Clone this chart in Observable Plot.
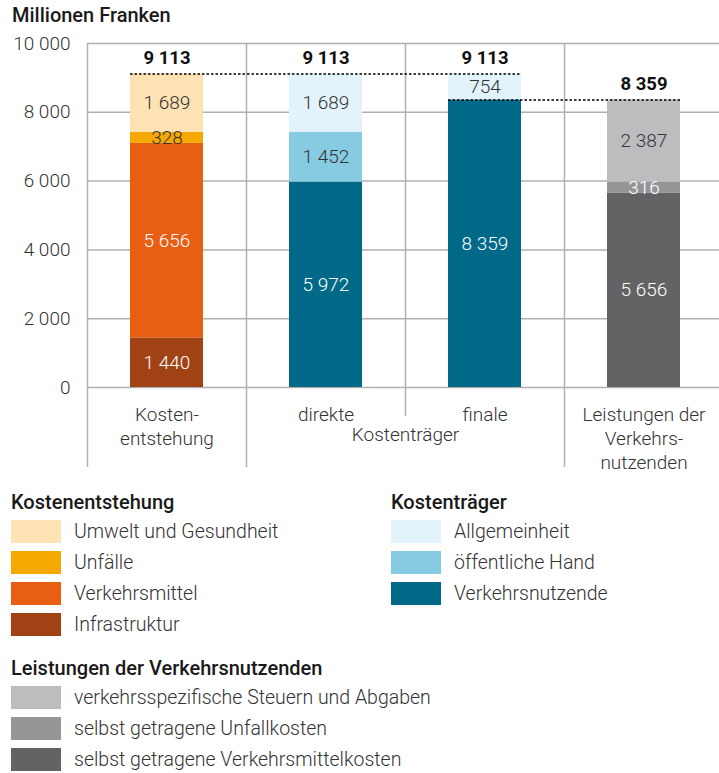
<!DOCTYPE html>
<html>
<head>
<meta charset="utf-8">
<script src="https://cdn.jsdelivr.net/npm/d3@7"></script>
<script src="https://cdn.jsdelivr.net/npm/@observablehq/plot@0.6"></script>
<style>
  body { margin: 0; background: #fff; font-family: Roboto, "Noto Sans", sans-serif; color: #333; }
  #wrap { position: relative; width: 719px; height: 773px; overflow: hidden; }
  #title { position: absolute; left: 12px; top: 3px; font-size: 20px; font-weight: 500; color: #1a1a1a; }
  #chart { position: absolute; left: 0; top: 30px; }
  .legend { position: absolute; font-size: 19.5px; font-weight: 300; color: #333; }
  .legend .lt { font-weight: 500; font-size: 20px; color: #1a1a1a; height: 24px; line-height: 24px; margin-bottom: 2px; }
  .legend .row { display: flex; align-items: center; height: 31px; }
  .legend .sw { width: 50px; height: 23px; margin-right: 13px; flex: none; }
</style>
</head>
<body>
<div id="wrap">
  <div id="title">Millionen Franken</div>
  <div id="chart"></div>
</div>
<script>
// ---- data ----
const categories = ["Kostenentstehung", "direkte", "finale", "Leistungen"];
const categoryLabels = ["Kosten-\nentstehung", "direkte", "finale", "Leistungen der\nVerkehrs-\nnutzenden"];
const groupLabel = "Kostenträger";

const kostenentstehungSeries = ["Infrastruktur", "Verkehrsmittel", "Unfälle", "Umwelt und Gesundheit"];
const kostenentstehungValues = [1440, 5656, 328, 1689];
const direkteSeries = ["Verkehrsnutzende", "öffentliche Hand", "Allgemeinheit"];
const direkteValues = [5972, 1452, 1689];
const finaleSeries = ["Verkehrsnutzende", "Allgemeinheit"];
const finaleValues = [8359, 754];
const leistungenSeries = ["selbst getragene Verkehrsmittelkosten", "selbst getragene Unfallkosten", "verkehrsspezifische Steuern und Abgaben"];
const leistungenValues = [5656, 316, 2387];

const totals = [9113, 9113, 9113, 8359];
const yTicks = [0, 2000, 4000, 6000, 8000, 10000];

const seriesDomain = [
  "Umwelt und Gesundheit", "Unfälle", "Verkehrsmittel", "Infrastruktur",
  "Allgemeinheit", "öffentliche Hand", "Verkehrsnutzende",
  "verkehrsspezifische Steuern und Abgaben", "selbst getragene Unfallkosten", "selbst getragene Verkehrsmittelkosten"
];
const seriesColors = [
  "#fde2b4", "#f5a800", "#e85e12", "#a04214",
  "#e3f3fb", "#86cbe1", "#006987",
  "#bdbdbf", "#969698", "#636366"
];
const darkTextSeries = new Set(["Umwelt und Gesundheit", "Unfälle", "Allgemeinheit", "öffentliche Hand", "verkehrsspezifische Steuern und Abgaben"]);

const legendGroups = [
  {title: "Kostenentstehung", items: ["Umwelt und Gesundheit", "Unfälle", "Verkehrsmittel", "Infrastruktur"], left: 11, top: 490},
  {title: "Kostenträger", items: ["Allgemeinheit", "öffentliche Hand", "Verkehrsnutzende"], left: 391, top: 490},
  {title: "Leistungen der Verkehrsnutzenden", items: ["verkehrsspezifische Steuern und Abgaben", "selbst getragene Unfallkosten", "selbst getragene Verkehrsmittelkosten"], left: 11, top: 656}
];

// ---- build table ----
const segments = [];
[[kostenentstehungSeries, kostenentstehungValues], [direkteSeries, direkteValues], [finaleSeries, finaleValues], [leistungenSeries, leistungenValues]]
  .forEach(([s, v], i) => s.forEach((name, j) => segments.push({cat: categories[i], series: name, value: v[j]})));
const totalRows = categories.map((c, i) => ({cat: c, total: totals[i]}));
const labelRows = categories.map((c, i) => ({cat: c, label: categoryLabels[i]}));

const loc = d3.formatLocale({decimal: ",", thousands: " ", grouping: [3], currency: ["", ""]});
const fmt = loc.format(",d");

const xLeft = 87, xRight = 723;
const step = (xRight - xLeft) / categories.length;
const barFrac = 73 / step;

const chart = Plot.plot({
  width: 719,
  height: 445,
  marginLeft: 87,
  marginRight: 0,
  marginTop: 13,
  marginBottom: 88,
  style: {fontFamily: "Roboto, 'Noto Sans', sans-serif", overflow: "visible", background: "transparent"},
  x: {domain: categories, range: [xLeft, xRight], paddingInner: 1 - barFrac, paddingOuter: (1 - barFrac) / 2, axis: null},
  y: {domain: [0, 10000], axis: null},
  color: {domain: seriesDomain, range: seriesColors},
  marks: [
    Plot.ruleY(yTicks, {stroke: "#b0b0b0", strokeWidth: 1.5}),
    Plot.axisY(yTicks, {tickSize: 0, tickPadding: 17, tickFormat: fmt, fontSize: 19, fontWeight: 300, fill: "#333", label: null}),
    // vertical separators
    Plot.ruleX(["Kostenentstehung", "direkte", "Leistungen"], {x: d => d, y1: 10000, y2: 0, dx: -step / 2, insetBottom: -80, stroke: "#b0b0b0", strokeWidth: 1.5}),
    Plot.ruleX(["finale"], {x: d => d, y1: 10000, y2: 0, dx: -step / 2, insetBottom: -29, stroke: "#b0b0b0", strokeWidth: 1.5}),
    Plot.barY(segments, Plot.stackY({x: "cat", y: "value", fill: "series", order: null})),
    Plot.text(segments, Plot.stackY({x: "cat", y: "value", order: null, text: d => fmt(d.value),
      fill: d => darkTextSeries.has(d.series) ? "#333" : "#fff", fontSize: 19, fontWeight: 300, lineAnchor: "middle"})),
    // dashed total lines
    Plot.ruleY([{y: totals[0], a: categories[0], b: categories[2]}], {y: "y", x1: "a", x2: "b", stroke: "#000", strokeWidth: 1.4, strokeDasharray: "2.5,2"}),
    Plot.ruleY([{y: totals[3], a: categories[2], b: categories[3]}], {y: "y", x1: "a", x2: "b", stroke: "#000", strokeWidth: 1.4, strokeDasharray: "2.5,2"}),
    Plot.text(totalRows, {x: "cat", y: "total", text: d => fmt(d.total), dy: -16, fontSize: 18.5, fontWeight: 700, fill: "#111", lineAnchor: "middle"}),
    // category labels
    Plot.text(labelRows, {x: "cat", y: 0, text: "label", lineAnchor: "top", dy: 16, fontSize: 19, fontWeight: 300, fill: "#333", lineHeight: 1.27}),
    Plot.text([groupLabel], {x: () => "finale", y: 0, text: d => d, dx: -step / 2, lineAnchor: "top", dy: 40, fontSize: 19, fontWeight: 300, fill: "#333"})
  ]
});
document.getElementById("chart").appendChild(chart);

// ---- legends ----
const colorOf = name => seriesColors[seriesDomain.indexOf(name)];
const wrap = document.getElementById("wrap");
legendGroups.forEach(g => {
  const div = document.createElement("div");
  div.className = "legend";
  div.style.left = g.left + "px";
  div.style.top = g.top + "px";
  const t = document.createElement("div");
  t.className = "lt";
  t.textContent = g.title;
  div.appendChild(t);
  g.items.forEach(it => {
    const r = document.createElement("div");
    r.className = "row";
    const sw = document.createElement("div");
    sw.className = "sw";
    sw.style.background = colorOf(it);
    const lab = document.createElement("span");
    lab.textContent = it;
    r.appendChild(sw);
    r.appendChild(lab);
    div.appendChild(r);
  });
  wrap.appendChild(div);
});
</script>
</body>
</html>
